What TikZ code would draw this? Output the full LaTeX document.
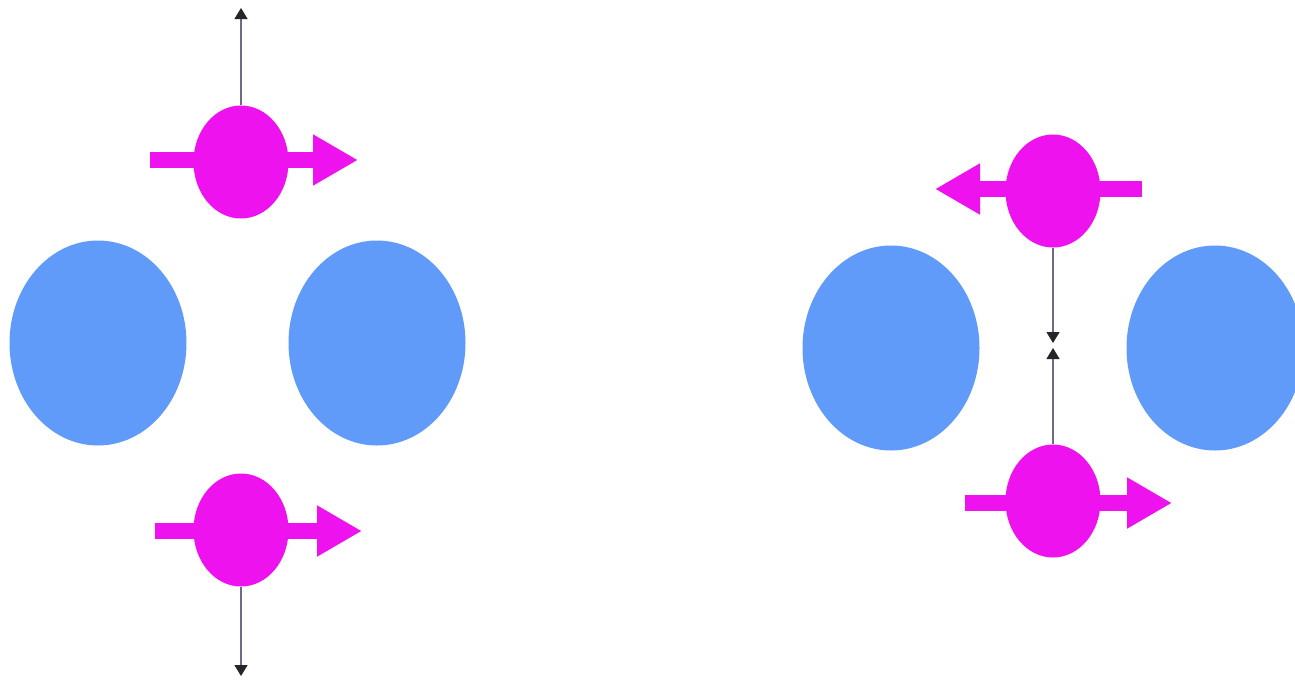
\documentclass[tikz,border=0pt]{standalone}
\usepackage{tikz}
\usepackage{xcolor}
\usetikzlibrary{shapes.geometric,arrows.meta}
\definecolor{atomblue}{RGB}{97,155,250}
\definecolor{spinmag}{RGB}{238,18,238}
\definecolor{wireink}{RGB}{115,105,135}

\begin{document}
\begin{tikzpicture}[x=0.1mm, y=-0.1mm,
    atom/.style={ellipse, fill=atomblue, minimum width=17.7mm, minimum height=20.5mm, inner sep=0pt},
    spin/.style={ellipse, fill=spinmag, minimum width=9.5mm, minimum height=11.3mm, inner sep=0pt},
    fat/.style={spinmag, line width=1.65mm, -{Triangle[length=4.5mm, width=4.8mm]}},
    thin/.style={draw=wireink, line width=0.35pt, -{Triangle[length=1.1mm, width=1.3mm, color=black!85]}}]
            \useasboundingbox (0,0) rectangle (1295,686);
            \clip (0,0) rectangle (1295,686);
            % left pair
            \node[atom] (a1) at (98,343) {};
            \node[atom] (a2) at (377,343) {};
            \node[spin] (s1) at (241,162) {};
            \node[spin] (s2) at (241,530) {};
            \coordinate (s1up) at (241,8);
            \coordinate (s2dn) at (241,676);
            \coordinate (f1a) at (150,160);
            \coordinate (f1b) at (358,160);
            \coordinate (f2a) at (155,531);
            \coordinate (f2b) at (362,531);
            \draw[fat] (f1a) -- (f1b);
            \draw[fat] (f2a) -- (f2b);
            \draw[thin] (s1) -- (s1up);
            \draw[thin] (s2) -- (s2dn);
            % right pair
            \node[atom] (a3) at (891,348) {};
            \node[atom] (a4) at (1215,348) {};
            \node[spin] (s3) at (1053,191) {};
            \node[spin] (s4) at (1053,501) {};
            \coordinate (s3dn) at (1053,343);
            \coordinate (s4up) at (1053,348);
            \coordinate (f3a) at (1142,189);
            \coordinate (f3b) at (935,189);
            \coordinate (f4a) at (965,503);
            \coordinate (f4b) at (1172,503);
            \draw[fat] (f3a) -- (f3b);
            \draw[fat] (f4a) -- (f4b);
            \draw[thin] (s3) -- (s3dn);
            \draw[thin] (s4) -- (s4up);
        \end{tikzpicture}
\end{document}
